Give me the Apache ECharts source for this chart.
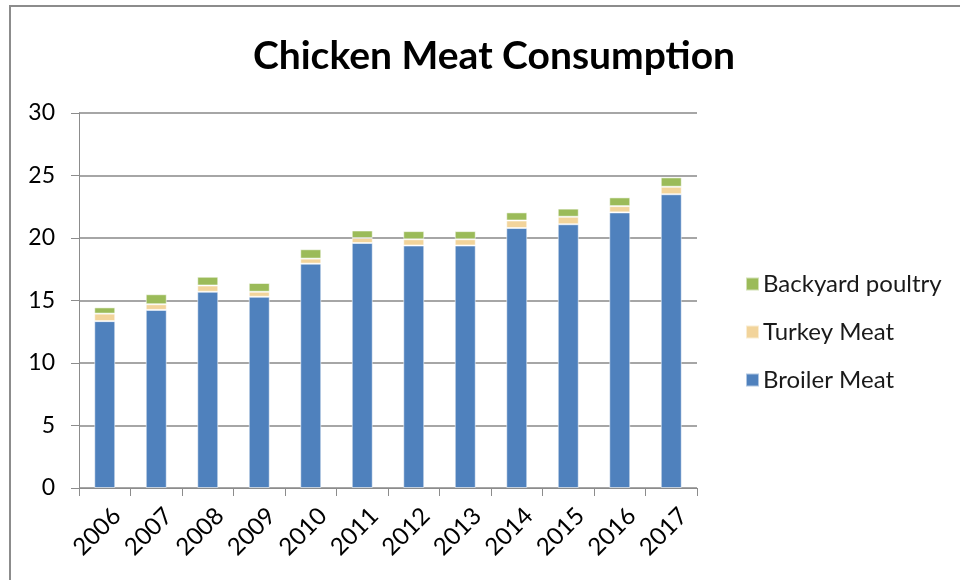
<!DOCTYPE html>
<html>
<head>
<meta charset="utf-8">
<script src="https://cdn.jsdelivr.net/npm/echarts@6/dist/echarts.min.js"></script>
<style>
html,body{margin:0;padding:0;background:#fff;}
#chart{width:960px;height:580px;}
</style>
</head>
<body>
<div id="chart"></div>
<script>
const years = ['2006','2007','2008','2009','2010','2011','2012','2013','2014','2015','2016','2017'];
const broilerMeat = [13.35, 14.25, 15.7, 15.3, 17.95, 19.6, 19.4, 19.4, 20.8, 21.1, 22.05, 23.5];
const turkeyMeat = [0.6, 0.45, 0.5, 0.4, 0.4, 0.4, 0.5, 0.5, 0.6, 0.6, 0.5, 0.6];
const backyardPoultry = [0.5, 0.8, 0.7, 0.7, 0.75, 0.6, 0.65, 0.65, 0.65, 0.65, 0.7, 0.75];
const yTicks = [0, 5, 10, 15, 20, 25, 30];

const FONT = 'Lato, "Open Sans", sans-serif';
const chart = echarts.init(document.getElementById('chart'), null, {renderer: 'canvas'});
const barBorder = {borderColor: 'rgba(255,255,255,0.55)', borderWidth: 1};
chart.setOption({
  animation: false,
  backgroundColor: '#ffffff',
  graphic: [{
    type: 'rect', shape: {x: 10, y: 6, width: 970, height: 600},
    style: {fill: 'none', stroke: '#8c8c8c', lineWidth: 2}, silent: true
  }],
  title: {
    text: 'Chicken Meat Consumption', left: 489, top: 32, textAlign: 'center',
    textStyle: {fontFamily: FONT, fontWeight: 'bold', fontSize: 39, color: '#000'}
  },
  legend: {
    orient: 'vertical', left: 740, top: 267, itemGap: 24, itemWidth: 13, itemHeight: 13,
    icon: 'rect',
    data: ['Backyard poultry', 'Turkey Meat', 'Broiler Meat'],
    textStyle: {fontFamily: FONT, fontSize: 24, color: '#1a1a1a', padding: [0, 0, 0, -1]}
  },
  grid: {left: 79, right: 263, top: 113, bottom: 92, containLabel: false},
  xAxis: {
    type: 'category', data: years,
    axisLine: {lineStyle: {color: '#8c8c8c', width: 1}},
    axisTick: {show: true, length: 8, lineStyle: {color: '#8c8c8c'}},
    axisLabel: {rotate: 45, fontFamily: FONT, fontSize: 24, color: '#000', margin: 12,
                verticalAlign: 'top', padding: [5, 0, 0, 0]}
  },
  yAxis: {
    type: 'value', min: yTicks[0], max: yTicks[yTicks.length - 1], interval: 5,
    axisLine: {show: true, lineStyle: {color: '#8c8c8c', width: 1}},
    axisTick: {show: true, length: 8, lineStyle: {color: '#8c8c8c'}},
    splitLine: {lineStyle: {color: '#a6a6a6', width: 2}},
    axisLabel: {fontFamily: FONT, fontSize: 23, color: '#000', margin: 24}
  },
  series: [
    {name: 'Broiler Meat', type: 'bar', stack: 'a', data: broilerMeat, barWidth: 21,
     itemStyle: Object.assign({color: '#4f81bd'}, barBorder)},
    {name: 'Turkey Meat', type: 'bar', stack: 'a', data: turkeyMeat,
     itemStyle: Object.assign({color: '#f2d49b'}, barBorder)},
    {name: 'Backyard poultry', type: 'bar', stack: 'a', data: backyardPoultry,
     itemStyle: Object.assign({color: '#9bbb59'}, barBorder)}
  ]
});
</script>
</body>
</html>
